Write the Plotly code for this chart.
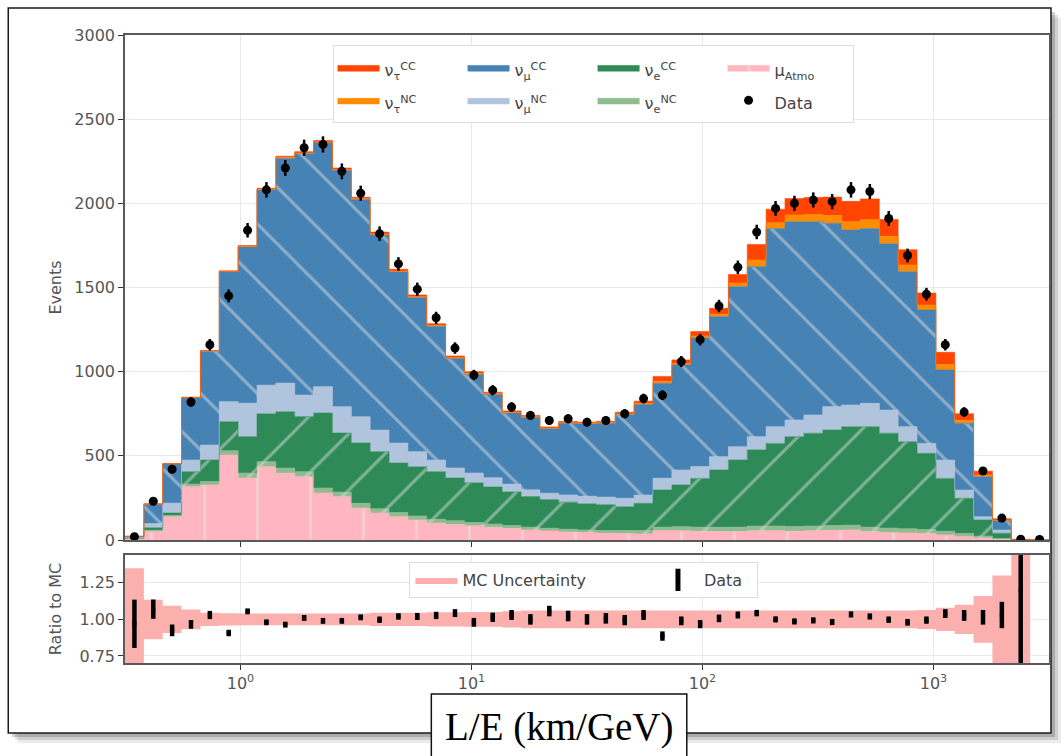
import numpy as np
import plotly.graph_objects as go

# ---------------- data ----------------
# 49 log-spaced bins in L/E between 10^-0.5 and 10^3.5 km/GeV
bin_edges = 10 ** np.linspace(-0.5, 3.5, 50)

mu_atmo = [8, 50, 138, 317, 327, 505, 368, 435, 397, 376,
           279, 257, 190, 160, 138, 119, 101, 92, 84, 76,
           68, 60, 54, 48, 44, 40, 38, 36, 55, 55,
           52, 50, 50, 55, 55, 52, 55, 58, 60, 50,
           45, 42, 38, 30, 20, 12, 4, 0, 0]
nue_nc = [1, 8, 7, 15, 20, 25, 30, 30, 30, 30,
          30, 28, 28, 26, 25, 24, 22, 22, 20, 19,
          18, 17, 16, 16, 16, 16, 18, 20, 22, 24,
          25, 26, 27, 28, 28, 28, 28, 28, 28, 27,
          26, 25, 24, 22, 18, 12, 5, 0, 0]
nue_cc = [3, 15, 15, 74, 128, 173, 216, 285, 335, 327,
          445, 350, 358, 339, 294, 292, 283, 254, 236, 220,
          200, 181, 170, 161, 155, 154, 142, 162, 220, 248,
          289, 340, 398, 452, 491, 534, 551, 567, 585, 596,
          563, 517, 453, 314, 210, 95, 31, 1, 0]
numu_nc = [2, 25, 59, 69, 89, 119, 199, 170, 170, 128,
           157, 157, 156, 128, 119, 90, 69, 60, 58, 55,
           46, 40, 38, 43, 45, 45, 50, 49, 70, 89,
           70, 79, 79, 79, 99, 99, 109, 139, 129, 139,
           138, 89, 59, 109, 49, 19, 19, 0, 0]
numu_cc = [8, 115, 232, 370, 557, 770, 927, 1160, 1336, 1434,
           1450, 1405, 1290, 1160, 1016, 915, 795, 650, 587, 494,
           422, 430, 383, 425, 429, 438, 496, 538, 564, 624,
           764, 832, 951, 1010, 1177, 1178, 1148, 1089, 1039, 1039,
           988, 921, 792, 535, 396, 238, 56, 2, 0]
nutau_nc = [0, 1, 1, 1, 2, 2, 3, 3, 4, 4,
            4, 4, 5, 5, 5, 5, 5, 5, 5, 5,
            4, 4, 4, 4, 4, 4, 5, 6, 12, 9,
            12, 15, 22, 40, 35, 40, 43, 46, 50, 52,
            44, 40, 30, 32, 18, 10, 3, 1, 0]
nutau_cc = [0, 1, 2, 3, 3, 5, 6, 7, 8, 8,
            9, 9, 9, 11, 11, 11, 10, 10, 10, 9,
            9, 8, 7, 7, 7, 8, 10, 14, 29, 21,
            26, 34, 50, 92, 80, 97, 100, 110, 121, 123,
            100, 90, 71, 73, 39, 23, 8, 0, 0]

data_events = [20, 230, 420, 820, 1160, 1450, 1840, 2080, 2210, 2330,
               2350, 2190, 2060, 1820, 1640, 1490, 1320, 1140, 980, 890,
               790, 740, 710, 720, 700, 710, 750, 840, 860, 1060,
               1190, 1390, 1620, 1830, 1970, 2000, 2020, 2010, 2080, 2070,
               1910, 1690, 1460, 1160, 760, 410, 130, 5, 3]
data_err = [5, 15, 20, 29, 34, 38, 43, 46, 47, 48,
            48, 47, 45, 43, 40, 39, 36, 34, 31, 30,
            28, 27, 27, 27, 26, 27, 27, 29, 29, 33,
            34, 37, 40, 43, 44, 45, 45, 45, 46, 45,
            44, 41, 38, 34, 28, 20, 11, 3, 2]

ratio = [0.97, 1.07, 0.925, 0.966, 1.03, 0.907, 1.055, 0.98, 0.964, 1.01,
         0.99, 0.99, 1.014, 0.998, 1.02, 1.02, 1.027, 1.043, 0.98, 1.014,
         1.03, 1.0, 1.057, 1.023, 1.0, 1.007, 0.995, 1.03, 0.886, 0.99,
         0.968, 1.007, 1.03, 1.043, 1.0, 0.986, 0.993, 0.982, 1.034, 1.02,
         0.998, 0.98, 0.995, 1.04, 1.027, 1.014, 1.03, 1.2, None]
ratio_err = [0.165, 0.066, 0.04, 0.03, 0.028, 0.022, 0.02, 0.02, 0.02, 0.02,
             0.02, 0.02, 0.02, 0.022, 0.022, 0.024, 0.025, 0.027, 0.03, 0.032,
             0.034, 0.036, 0.036, 0.036, 0.036, 0.036, 0.035, 0.034, 0.032, 0.03,
             0.028, 0.026, 0.024, 0.022, 0.021, 0.021, 0.021, 0.021, 0.021, 0.021,
             0.022, 0.023, 0.025, 0.03, 0.037, 0.05, 0.09, 1.0, None]
mc_unc = [0.35, 0.135, 0.093, 0.068, 0.045, 0.042, 0.04, 0.04, 0.04, 0.04,
          0.04, 0.04, 0.04, 0.045, 0.045, 0.045, 0.048, 0.048, 0.05, 0.05,
          0.055, 0.06, 0.06, 0.06, 0.06, 0.06, 0.06, 0.06, 0.06, 0.06,
          0.06, 0.06, 0.06, 0.06, 0.06, 0.06, 0.06, 0.06, 0.06, 0.06,
          0.06, 0.06, 0.065, 0.08, 0.1, 0.16, 0.3, 1.0, 0.0]

# ---------------- geometry helpers ----------------
centers = np.sqrt(bin_edges[:-1] * bin_edges[1:])


def stepped(v):
    v = list(v)
    return v + [v[-1]]


PX_L, PX_R, PX_T, PX_B = 125, 1051, 35, 663
W, H = 1061, 756


def px(xp):
    return (xp - PX_L) / (PX_R - PX_L)


def py(yp):
    return (PX_B - yp) / (PX_B - PX_T)


def small(t):
    return f"<span style='font-size:16px'>{t}</span>"


fig = go.Figure()

HATCH = "#d6dadd"
components = [
    ("μ<sub>Atmo</sub>", mu_atmo, "#ffb6c1", dict(shape="|", fgcolor="#ebe2e4", size=53, solidity=0.06), "atm", 7),
    ("ν<sub>e</sub><sup>NC</sup>", nue_nc, "#8fbc8f", dict(shape="/", fgcolor=HATCH, size=40, solidity=0.075), "e", 6),
    ("ν<sub>e</sub><sup>CC</sup>", nue_cc, "#2e8b57", dict(shape="/", fgcolor=HATCH, size=40, solidity=0.075), "e", 5),
    ("ν<sub>μ</sub><sup>NC</sup>", numu_nc, "#b0c4de", None, "mu", 4),
    ("ν<sub>μ</sub><sup>CC</sup>", numu_cc, "#4682b4", dict(shape="\\", fgcolor=HATCH, size=40, solidity=0.075), "mu", 3),
    ("ν<sub>τ</sub><sup>NC</sup>", nutau_nc, "#ff8c00", None, "tau", 2),
    ("ν<sub>τ</sub><sup>CC</sup>", nutau_cc, "#ff4500", None, "tau", 1),
]

for name, vals, col, pat, grp, rank in components:
    kw = dict(
        x=bin_edges, y=stepped(vals), name=small(name), mode="lines",
        line=dict(shape="hv", width=0.6, color=col),
        stackgroup="mc", fillcolor=col,
        legendgroup=grp, legendrank=rank,
        xaxis="x", yaxis="y", hoverinfo="skip",
    )
    if pat is not None:
        kw["fillpattern"] = dict(bgcolor=col, **pat)
    fig.add_trace(go.Scatter(**kw))

fig.add_trace(go.Scatter(
    x=centers, y=data_events, name=small("Data"), mode="markers",
    marker=dict(color="black", size=9),
    error_y=dict(type="data", array=data_err, color="black", thickness=2.5, width=0),
    legendgroup="atm", legendrank=8, xaxis="x", yaxis="y",
))

# ---------------- ratio panel ----------------
band_lo = [1 - e for e in mc_unc]
band_hi = [1 + e for e in mc_unc]
fig.add_trace(go.Scatter(
    x=bin_edges, y=stepped(band_lo), mode="lines", line=dict(shape="hv", width=0, color="#fbb0ad"),
    showlegend=False, xaxis="x2", yaxis="y2", hoverinfo="skip",
))
fig.add_trace(go.Scatter(
    x=bin_edges, y=stepped(band_hi), mode="lines", line=dict(shape="hv", width=0, color="#fbb0ad"),
    fill="tonexty", fillcolor="#fbb0ad", name="MC Uncertainty" + "\u00a0" * 12, legendrank=1,
    legend="legend2", xaxis="x2", yaxis="y2", hoverinfo="skip",
))
fig.add_trace(go.Scatter(
    x=centers, y=ratio, mode="markers", marker=dict(color="black", size=4, symbol="square"),
    error_y=dict(type="data", array=ratio_err, color="black", thickness=4.5, width=0),
    showlegend=False, xaxis="x2", yaxis="y2",
))
fig.add_trace(go.Scatter(
    x=[None], y=[None], mode="markers", name="Data" + "\u00a0" * 2, legendrank=2,
    marker=dict(symbol="line-ns-open", size=20, line=dict(width=5, color="black"), color="black"),
    legend="legend2", xaxis="x2", yaxis="y2",
))

# ---------------- layout ----------------
AX = dict(showline=True, mirror=True, linecolor="#5a5a5a", linewidth=1.5,
          ticks="outside", ticklen=5, tickcolor="#333", tickwidth=1.2,
          gridcolor="#e9e9e9", gridwidth=1, zeroline=False,
          tickfont=dict(family="DejaVu Sans", size=16, color="#555"))

decades = [1, 10, 100, 1000]
fig.update_layout(
    width=W, height=H,
    margin=dict(l=PX_L, r=W - PX_R, t=PX_T, b=H - PX_B),
    paper_bgcolor="white", plot_bgcolor="white",
    font=dict(family="DejaVu Sans", color="#444"),
    xaxis=dict(type="log", range=[-0.5, 3.5], domain=[0, 1], anchor="y",
               tickvals=decades, showticklabels=False, **AX),
    yaxis=dict(domain=[py(540), 1], range=[0, 3000], tickvals=[0, 500, 1000, 1500, 2000, 2500, 3000],
               title=dict(text="Events", font=dict(size=16, color="#555"), standoff=9), **AX),
    xaxis2=dict(type="log", range=[-0.5, 3.5], domain=[0, 1], anchor="y2", matches="x",
                tickvals=decades,
                ticktext=["10<sup>0</sup>", "10<sup>1</sup>", "10<sup>2</sup>", "10<sup>3</sup>"], **AX),
    yaxis2=dict(domain=[0, py(555)], range=[0.702, 1.44], tickvals=[0.75, 1.0, 1.25],
                ticktext=["0.75", "1.00", "1.25"],
                title=dict(text="Ratio to MC", font=dict(size=16, color="#555"), standoff=14), **AX),
    legend=dict(orientation="h", x=px(333), y=py(45), xanchor="left", yanchor="top",
                traceorder="grouped", bgcolor="white", bordercolor="#dcdcdc", borderwidth=1,
                font=dict(size=23, color="#444"), itemwidth=42, entrywidth=73,
                tracegroupgap=4),
    legend2=dict(orientation="h", x=px(410), y=py(562), xanchor="left", yanchor="top",
                 bgcolor="white", bordercolor="#dcdcdc", borderwidth=1, traceorder="normal",
                 font=dict(size=16, color="#444"), itemwidth=42),
)

# ---------------- frame, shadow and axis label box ----------------
shapes = []
for i, op in enumerate([0.10, 0.16, 0.24]):
    off = 10 - 3 * i
    shapes.append(dict(type="rect", xref="paper", yref="paper", layer="below",
                       x0=px(8 + off), x1=px(1053 + off), y0=py(733 + off), y1=py(8 + off),
                       fillcolor=f"rgba(60,60,60,{op})", line=dict(width=0)))
shapes.append(dict(type="rect", xref="paper", yref="paper", layer="below",
                   x0=px(8), x1=px(1053), y0=py(733), y1=py(8),
                   fillcolor="white", line=dict(color="#1a1a1a", width=1.5)))
shapes.append(dict(type="rect", xref="paper", yref="paper", layer="above",
                   x0=px(432), x1=px(688), y0=py(762), y1=py(694),
                   fillcolor="white", line=dict(color="#111", width=1.5)))
fig.update_layout(shapes=shapes)

fig.add_annotation(xref="paper", yref="paper", x=px(560), y=py(727),
                   xanchor="center", yanchor="middle",
                   text="L/E (km/GeV)", showarrow=False,
                   font=dict(family="Liberation Serif", size=39, color="black"))

fig.write_html("out.html")
